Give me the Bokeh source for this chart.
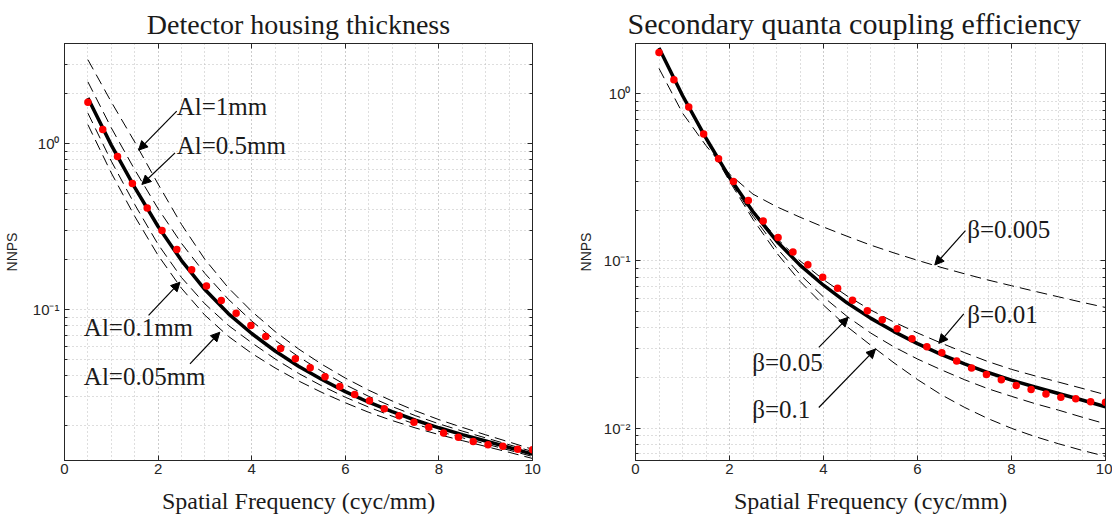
from bokeh.plotting import figure
from bokeh.layouts import row
from bokeh.models import (FixedTicker, CustomJSTickFormatter, Arrow, NormalHead, Label,
                          LinearAxis, LogAxis)
from bokeh.embed import file_html
from bokeh.resources import INLINE

# ---------------- data ----------------
freq = [0.5, 1.0, 1.5, 2.0, 2.5, 3.0, 3.5, 4.0, 4.5, 5.0,
        5.5, 6.0, 6.5, 7.0, 7.5, 8.0, 8.5, 9.0, 9.5, 10.0]
nnps_model = [1.879, 0.977, 0.543, 0.316, 0.197, 0.1318, 0.0944, 0.0716, 0.0562, 0.0455,
              0.0378, 0.0320, 0.0276, 0.0242, 0.0215, 0.01936, 0.01762, 0.01611, 0.01472, 0.01343]

freq_meas = [0.5, 0.817, 1.133, 1.45, 1.767, 2.083, 2.4, 2.717, 3.033, 3.35, 3.667,
             3.983, 4.3, 4.617, 4.933, 5.25, 5.567, 5.883, 6.2, 6.517, 6.833,
             7.15, 7.467, 7.783, 8.1, 8.417, 8.733, 9.05, 9.367, 9.683, 10.0]
nnps_meas = [1.768, 1.215, 0.835, 0.574, 0.409, 0.2985, 0.230, 0.1737, 0.1383, 0.1133, 0.0950,
             0.0800, 0.0687, 0.0582, 0.0504, 0.0445, 0.0393, 0.0343, 0.0307, 0.0282, 0.0252,
             0.0229, 0.0209, 0.0195, 0.0180, 0.0170, 0.0160, 0.0153, 0.0150, 0.0144, 0.0143]

# detector housing thickness (left panel)
al_1mm = [3.194, 1.778, 1.021, 0.569, 0.325, 0.2003, 0.1350, 0.0974, 0.0736, 0.0578,
          0.0467, 0.0386, 0.0326, 0.0281, 0.0245, 0.02168, 0.01947, 0.01756, 0.01590, 0.01437]
al_05mm = [2.349, 1.241, 0.695, 0.4045, 0.2502, 0.1648, 0.1152, 0.0852, 0.0652, 0.0519,
           0.0423, 0.0352, 0.02995, 0.0260, 0.0229, 0.02046, 0.0185, 0.01683, 0.01531, 0.01393]
al_01mm = [1.522, 0.782, 0.429, 0.2465, 0.1556, 0.1081, 0.0802, 0.0630, 0.0503, 0.0412,
           0.0346, 0.0296, 0.0258, 0.02275, 0.02036, 0.01843, 0.01686, 0.01548, 0.01420, 0.01300]
al_005mm = [1.297, 0.664, 0.364, 0.2117, 0.1340, 0.0923, 0.0689, 0.0544, 0.0444, 0.0371,
            0.0316, 0.0274, 0.0240, 0.02142, 0.01931, 0.01762, 0.01621, 0.01495, 0.01378, 0.01265]

# secondary quanta coupling efficiency (right panel)
beta_0005 = [1.419, 0.767, 0.490, 0.331, 0.251, 0.2113, 0.1828, 0.1596, 0.1406, 0.1245,
             0.1117, 0.1009, 0.0916, 0.0838, 0.0769, 0.0711, 0.0658, 0.0610, 0.0566, 0.0527]
beta_001 = [1.879, 0.977, 0.543, 0.316, 0.2009, 0.1371, 0.1001, 0.0773, 0.0618, 0.0510,
            0.0431, 0.0371, 0.0323, 0.0283, 0.0250, 0.02246, 0.02053, 0.01885, 0.01730, 0.01585]
beta_005 = [1.879, 0.972, 0.538, 0.3065, 0.1852, 0.1199, 0.0831, 0.0609, 0.0466, 0.0371,
            0.0306, 0.0259, 0.02236, 0.01948, 0.0172, 0.01549, 0.01401, 0.01281, 0.01163, 0.01061]
beta_01 = [1.879, 0.967, 0.529, 0.300, 0.1773, 0.1120, 0.0755, 0.0544, 0.0405, 0.0314,
           0.02457, 0.01952, 0.01587, 0.01331, 0.01140, 0.00997, 0.00890, 0.00806, 0.00736, 0.00678]

x_tick_labels = [0, 2, 4, 6, 8, 10]

# ---------------- styling ----------------
SERIF = "Liberation Serif"
SANS = "Liberation Sans"
AX = "#262626"
GRID = "#bdbdbd"
TXT = "#1a1a1a"

x_minor = [i * 0.5 for i in range(21)]
y_major = [0.001, 0.01, 0.1, 1.0]
y_minor = [k * m for m in (0.001, 0.01, 0.1, 1.0) for k in range(2, 10)]

sup_code = """
const e = Math.round(Math.log10(tick));
const sup = {'0':'\u2070','1':'\u00b9','2':'\u00b2','3':'\u00b3','-':'\u207b'};
return '10' + String(e).split('').map(c => sup[c]).join('');
"""


def make_fig(title, title_size, title_align, title_offset, y_lo, y_hi, width, mbl, mbr,
             ylabel_standoff):
    p = figure(width=width, height=522, x_range=(0, 10), y_range=(y_lo, y_hi),
               y_axis_type="log", output_backend="svg", toolbar_location=None,
               min_border_left=mbl, min_border_right=mbr, min_border_top=43,
               min_border_bottom=62)
    p.background_fill_color = "white"
    p.border_fill_color = "white"
    p.outline_line_color = AX
    p.outline_line_width = 1

    p.title.text = title
    p.title.align = title_align
    p.title.offset = title_offset
    p.title.text_font = SERIF
    p.title.text_font_size = title_size
    p.title.text_font_style = "normal"
    p.title.text_color = TXT
    p.title.standoff = 8

    xt = FixedTicker(ticks=x_tick_labels, minor_ticks=x_minor)
    yt = FixedTicker(ticks=y_major, minor_ticks=y_minor)

    xa = p.xaxis[0]
    xa.ticker = xt
    xa.major_tick_in = 5
    xa.major_tick_out = 0
    xa.minor_tick_in = 0
    xa.minor_tick_out = 0
    xa.axis_line_color = AX
    xa.major_tick_line_color = AX
    xa.major_label_text_font = SANS
    xa.major_label_text_font_size = "15px"
    xa.major_label_text_color = AX
    xa.major_label_standoff = 3
    xa.axis_label = "Spatial Frequency (cyc/mm)"
    xa.axis_label_text_font = SERIF
    xa.axis_label_text_font_size = "24px"
    xa.axis_label_text_font_style = "normal"
    xa.axis_label_text_color = TXT
    xa.axis_label_standoff = 11

    ya = p.yaxis[0]
    ya.ticker = yt
    ya.formatter = CustomJSTickFormatter(code=sup_code)
    ya.major_tick_in = 5
    ya.major_tick_out = 0
    ya.minor_tick_in = 3
    ya.minor_tick_out = 0
    ya.axis_line_color = AX
    ya.major_tick_line_color = AX
    ya.minor_tick_line_color = AX
    ya.major_label_text_font = SANS
    ya.major_label_text_font_size = "15px"
    ya.major_label_text_color = AX
    ya.major_label_standoff = 5
    ya.axis_label = "NNPS"
    ya.axis_label_text_font = SANS
    ya.axis_label_text_font_size = "14px"
    ya.axis_label_text_font_style = "normal"
    ya.axis_label_text_color = AX
    ya.axis_label_standoff = ylabel_standoff

    blank = "return '';"
    top = LinearAxis(ticker=xt, formatter=CustomJSTickFormatter(code=blank),
                     major_tick_in=5, major_tick_out=0, minor_tick_in=0, minor_tick_out=0,
                     major_label_standoff=0, axis_line_color=AX, major_tick_line_color=AX)
    p.add_layout(top, "above")
    right = LogAxis(ticker=yt, formatter=CustomJSTickFormatter(code=blank),
                    major_tick_in=5, major_tick_out=0, minor_tick_in=3, minor_tick_out=0,
                    major_label_standoff=0, axis_line_color=AX, major_tick_line_color=AX,
                    minor_tick_line_color=AX)
    p.add_layout(right, "right")

    for g in (p.xgrid[0], p.ygrid[0]):
        g.grid_line_color = GRID
        g.grid_line_dash = "1 3"
        g.grid_line_width = 1
        g.minor_grid_line_color = GRID
        g.minor_grid_line_dash = "1 3"
        g.minor_grid_line_width = 1
    return p


def add_curves(p, dashed_series):
    for ys in dashed_series:
        p.line(freq, ys, line_color="black", line_width=1, line_dash="11 6")
    p.line(freq, nnps_model, line_color="black", line_width=3.5)
    p.scatter(freq_meas, nnps_meas, size=7.5, fill_color="#ff0000", line_color=None)


def annotate(p, text, tx, ty, x0, y0, x1, y1):
    p.add_layout(Label(x=tx, y=ty, text=text, text_font=SERIF, text_font_size="25px",
                       text_baseline="alphabetic", text_align="left", text_color=TXT))
    p.add_layout(Arrow(end=NormalHead(size=9, fill_color="black", line_color="black", line_width=1),
                       x_start=x0, y_start=y0, x_end=x1, y_end=y1,
                       line_color="black", line_width=1.2))


# ---------------- left panel ----------------
p1 = make_fig("Detector housing thickness", "28px", "center", 0, 0.0123, 4.0, 556, 62, 24, 10)
add_curves(p1, [al_1mm, al_05mm, al_01mm, al_005mm])
annotate(p1, "Al=1mm", 2.398, 1.672, 2.398, 1.566, 1.583, 0.911)
annotate(p1, "Al=0.5mm", 2.398, 0.967, 2.362, 0.878, 1.653, 0.566)
annotate(p1, "Al=0.1mm", 0.413, 0.0778, 1.796, 0.092, 2.468, 0.146)
annotate(p1, "Al=0.05mm", 0.413, 0.0397, 2.681, 0.0470, 3.319, 0.0729)

# ---------------- right panel ----------------
p2 = make_fig("Secondary quanta coupling efficiency", "30px", "left", -8, 0.0064, 2.0, 556, 79, 7, 7)
add_curves(p2, [beta_0005, beta_001, beta_005, beta_01])
annotate(p2, "\u03b2=0.005", 7.057, 0.155, 7.02, 0.1518, 6.368, 0.0946)
annotate(p2, "\u03b2=0.01", 7.057, 0.0477, 6.985, 0.0482, 6.453, 0.0321)
annotate(p2, "\u03b2=0.05", 2.483, 0.0246, 3.9, 0.0304, 4.526, 0.0460)
annotate(p2, "\u03b2=0.1", 2.483, 0.01288, 3.9, 0.01328, 5.106, 0.0297)

layout = row(p1, p2)
open("out.html", "w").write(file_html(layout, INLINE))
